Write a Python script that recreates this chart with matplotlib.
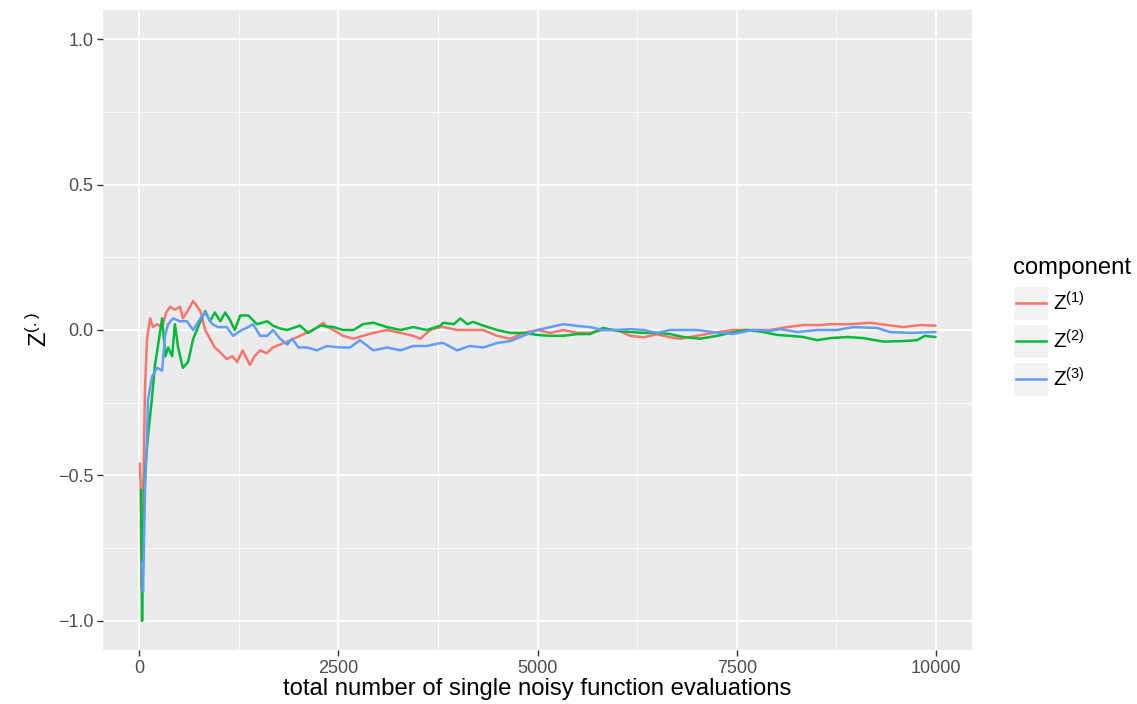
import matplotlib
matplotlib.use("Agg")
import matplotlib.pyplot as plt
from matplotlib.patches import Rectangle
from matplotlib.lines import Line2D

plt.rcParams['font.family'] = ['Liberation Sans', 'DejaVu Sans']
plt.rcParams['mathtext.default'] = 'regular'

# values
x1 = [10, 20, 25, 35, 50, 75, 100, 140, 175, 225, 290, 340, 390, 450, 515, 550, 620, 680,
      770, 830, 890, 950, 1030, 1100, 1170, 1230, 1300, 1390, 1450, 1520, 1600, 1680, 1770,
      1860, 1940, 2020, 2100, 2180, 2250, 2310, 2360, 2440, 2500, 2560, 2690, 2810, 2940,
      3110, 3280, 3440, 3530, 3650, 3780, 3820, 3990, 4150, 4320, 4490, 4660, 4820, 5000,
      5160, 5320, 5500, 5660, 5820, 6000, 6160, 6330, 6500, 6660, 6790, 7000, 7200, 7450,
      7670, 7920, 8130, 8330, 8550, 8670, 8920, 9170, 9390, 9590, 9800, 9990]
y1 = [-0.46, -0.53, -0.75, -0.89, -0.60, -0.20, -0.03, 0.04, 0.01, 0.02, 0.01, 0.06, 0.08,
      0.07, 0.08, 0.04, 0.07, 0.10, 0.065, 0.0, -0.03, -0.06, -0.08, -0.10, -0.09, -0.11,
      -0.07, -0.12, -0.09, -0.07, -0.08, -0.06, -0.05, -0.04, -0.03, -0.02, -0.01, 0.0,
      0.01, 0.025, 0.01, 0.0, -0.01, -0.02, -0.03, -0.02, -0.01, 0.0, -0.01, -0.02, -0.03,
      0.0, 0.01, 0.01, 0.0, 0.0, 0.0, -0.02, -0.03, -0.01, 0.0, -0.01, 0.0, -0.01, -0.01,
      0.0, 0.0, -0.02, -0.025, -0.015, -0.025, -0.03, -0.02, -0.01, 0.0, 0.0, 0.0, 0.01,
      0.017, 0.017, 0.02, 0.02, 0.025, 0.017, 0.01, 0.017, 0.015]

x2 = [25, 38, 50, 75, 110, 160, 200, 240, 290, 330, 365, 415, 450, 490, 550, 615, 680,
      770, 830, 890, 950, 1020, 1080, 1140, 1200, 1270, 1370, 1480, 1610, 1680, 1770, 1860,
      2020, 2120, 2270, 2440, 2560, 2690, 2810, 2940, 3110, 3280, 3440, 3610, 3780, 3820,
      3950, 4030, 4120, 4190, 4320, 4490, 4660, 4820, 5000, 5160, 5320, 5500, 5660, 5820,
      6000, 6160, 6330, 6500, 6660, 6830, 7040, 7250, 7420, 7630, 7830, 8010, 8170, 8330,
      8510, 8670, 8890, 9090, 9340, 9590, 9760, 9860, 9990]
y2 = [-0.55, -1.0, -0.75, -0.49, -0.37, -0.24, -0.12, -0.05, 0.04, -0.09, -0.06, -0.09,
      0.02, -0.06, -0.13, -0.11, -0.03, 0.03, 0.065, 0.03, 0.06, 0.03, 0.06, 0.035, 0.0,
      0.05, 0.05, 0.02, 0.03, 0.015, 0.005, 0.0, 0.015, -0.01, 0.015, 0.01, 0.0, 0.0,
      0.02, 0.025, 0.01, 0.0, 0.01, 0.0, 0.015, 0.025, 0.02, 0.04, 0.02, 0.028, 0.015, 0.0,
      -0.01, -0.01, -0.017, -0.02, -0.02, -0.014, -0.014, 0.007, -0.003, -0.007, -0.01,
      -0.01, -0.014, -0.024, -0.03, -0.02, -0.01, 0.0, -0.007, -0.017, -0.02, -0.024,
      -0.035, -0.028, -0.024, -0.028, -0.04, -0.038, -0.035, -0.02, -0.024]

x3 = [38, 50, 75, 100, 113, 163, 226, 289, 326, 364, 427, 515, 600, 680, 770, 830, 920,
      990, 1100, 1180, 1290, 1370, 1430, 1520, 1610, 1680, 1770, 1860, 1920, 2000, 2110,
      2230, 2360, 2520, 2650, 2770, 2940, 3110, 3280, 3440, 3610, 3780, 3820, 3990, 4150,
      4320, 4490, 4660, 4820, 5000, 5160, 5320, 5500, 5660, 5820, 6000, 6160, 6330, 6500,
      6660, 6790, 7000, 7200, 7450, 7700, 7920, 8050, 8260, 8510, 8760, 8960, 9260, 9420,
      9680, 9990]
y3 = [-0.80, -0.90, -0.55, -0.37, -0.24, -0.16, -0.13, -0.14, -0.02, 0.02, 0.04, 0.03,
      0.03, 0.0, 0.04, 0.06, 0.02, 0.01, 0.01, -0.02, 0.0, 0.01, 0.02, -0.02, -0.02, 0.0,
      -0.03, -0.05, -0.03, -0.06, -0.06, -0.07, -0.055, -0.06, -0.06, -0.035, -0.07,
      -0.06, -0.07, -0.055, -0.055, -0.045, -0.045, -0.07, -0.055, -0.06, -0.045, -0.038,
      -0.02, 0.0, 0.01, 0.02, 0.014, 0.01, 0.0, 0.0, 0.003, 0.0, -0.01, 0.0, 0.0, 0.0,
      -0.007, -0.014, 0.0, -0.003, 0.003, -0.007, 0.0, 0.0, 0.01, 0.007, -0.007, -0.01,
      -0.007]

labels = [r'$Z^{(1)}$', r'$Z^{(2)}$', r'$Z^{(3)}$']
colors = ['#F8766D', '#00BA38', '#619CFF']
xticks = [0, 2500, 5000, 7500, 10000]
yticks = [-1.0, -0.5, 0.0, 0.5, 1.0]

fig = plt.figure(figsize=(11.37, 7.04), dpi=100)
ax = fig.add_axes([0.0906, 0.0767, 0.7644, 0.9091])
ax.set_facecolor('#EBEBEB')
for s in ax.spines.values():
    s.set_visible(False)

for xs, ys, c in zip([x1, x2, x3], [y1, y2, y3], colors):
    ax.plot(xs, ys, color=c, lw=1.8, zorder=3)

ax.set_xlim(-452, 10452)
ax.set_ylim(-1.1, 1.1)
ax.set_xticks(xticks)
ax.set_xticklabels([str(t) for t in xticks])
ax.set_yticks(yticks)
ax.set_yticklabels(['\u22121.0', '\u22120.5', '0.0', '0.5', '1.0'])
ax.set_xticks([1250, 3750, 6250, 8750], minor=True)
ax.set_yticks([-0.75, -0.25, 0.25, 0.75], minor=True)
ax.grid(which='major', color='white', lw=1.3, zorder=1)
ax.grid(which='minor', color='white', lw=0.6, zorder=1)
ax.set_axisbelow(True)
ax.tick_params(which='major', length=4, width=1, color='#333333',
               labelsize=13, labelcolor='#4D4D4D', pad=3)
ax.tick_params(which='minor', length=0)

ax.set_xlabel('total number of single noisy function evaluations', fontsize=17.2, labelpad=1)
ax.set_ylabel(r'$Z^{(.)}$', fontsize=17.2, labelpad=4)

# legend
fig.text(1013 / 1137, 1 - 268 / 704, 'component', fontsize=17.2, va='center', ha='left')
for i, (lab, c) in enumerate(zip(labels, colors)):
    yc = 1 - (303 + 38 * i) / 704
    fig.add_artist(Rectangle((1013 / 1137, yc - 17 / 704), 35 / 1137, 34 / 704,
                             transform=fig.transFigure, facecolor='#F2F2F2',
                             edgecolor='white', lw=1))
    fig.add_artist(Line2D([1016 / 1137, 1046 / 1137], [yc, yc], transform=fig.transFigure,
                          color=c, lw=1.8))
    fig.text(1053 / 1137, yc, lab, fontsize=15, va='center', ha='left')

fig.savefig('out.png', dpi=100)
